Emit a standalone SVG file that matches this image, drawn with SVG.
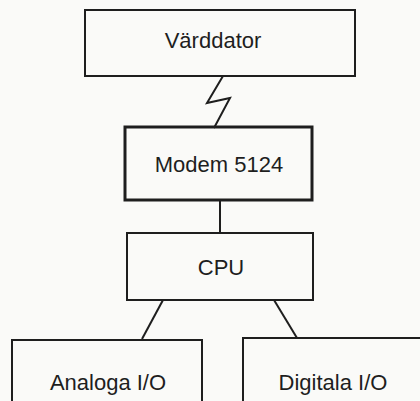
<svg xmlns="http://www.w3.org/2000/svg" width="420" height="401" viewBox="0 0 420 401">
<style>
.box{fill:none;stroke:#1e1e1e;stroke-width:2}
.thick{stroke-width:3}
.lbl{font-family:"Liberation Sans",Arial,sans-serif;font-size:22px;fill:#1e1e1e;text-anchor:middle}
.con{fill:none;stroke:#1e1e1e;stroke-width:2;stroke-linejoin:miter}
</style>
<rect width="420" height="401" fill="#fafaf8"/>
<g id="connectors">
<polyline class="con" points="223,76 207,103 230,98 214,128"/>
<line class="con" x1="220" y1="200" x2="220" y2="233"/>
<line class="con" x1="163" y1="300" x2="142" y2="339"/>
<line class="con" x1="274" y1="300" x2="297" y2="338"/>
</g>
<g id="varddator">
<rect class="box" x="85" y="10" width="270" height="66"/>
<text class="lbl" x="213" y="48">Värddator</text>
</g>
<g id="modem">
<rect class="box thick" x="125" y="127" width="187" height="73"/>
<text class="lbl" x="219" y="172">Modem 5124</text>
</g>
<g id="cpu">
<rect class="box" x="127" y="233" width="186" height="67"/>
<text class="lbl" x="221" y="275">CPU</text>
</g>
<g id="analoga">
<rect class="box" x="12" y="340" width="190" height="80"/>
<text class="lbl" x="108" y="390">Analoga I/O</text>
</g>
<g id="digitala">
<rect class="box" x="243" y="338" width="182" height="80"/>
<text class="lbl" x="333" y="390">Digitala I/O</text>
</g>
</svg>
